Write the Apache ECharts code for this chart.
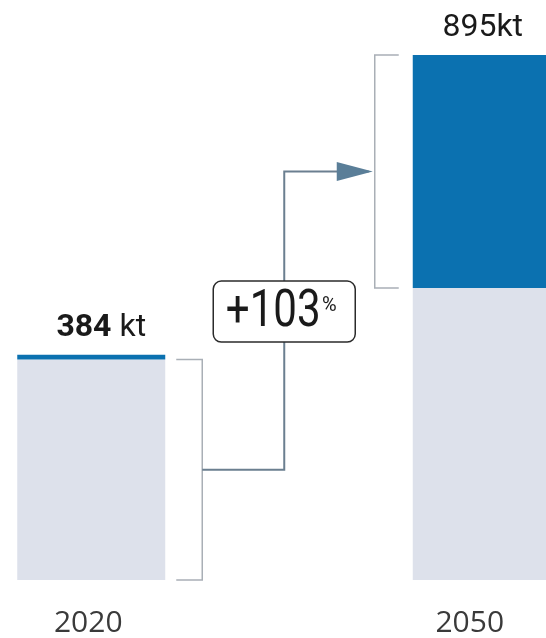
<!DOCTYPE html>
<html>
<head>
<meta charset="utf-8">
<script src="https://cdn.jsdelivr.net/npm/echarts@6/dist/echarts.min.js"></script>
<style>
html,body{margin:0;padding:0;background:#fff;}
#chart{width:546px;height:638px;}
</style>
</head>
<body>
<div id="chart"></div>
<script>
// ---- data ----
const categories = ['2020', '2050'];
const baseValues = [376, 498];     // light grey part (kt)
const growthValues = [8, 397];     // blue part (kt)
const totals = [384, 895];         // labelled totals (kt)
const changePct = 103;             // "+103%"

// ---- styles ----
const BAR_W = 148;
const GREY = '#dde1eb';
const BLUE = '#0b71b0';
const FONT = 'Roboto, "Noto Sans", sans-serif';

const chart = echarts.init(document.getElementById('chart'));

function renderItem(params, api) {
  const cL = api.coord([0, 0]);
  const cR = api.coord([1, 0]);
  const yBot = cL[1];
  const yTopL = api.coord([0, baseValues[0]])[1];
  const yTopR = api.coord([1, totals[1]])[1];
  const yBotR = api.coord([1, baseValues[1]])[1];
  const lR = cL[0] + BAR_W / 2;
  const rL = cR[0] - BAR_W / 2;
  const vL = lR + 37;
  const vR = rL - 38;
  const yL = (yTopL + yBot) / 2;
  const yR = (yTopR + yBotR) / 2;
  const xm = lR + 119;
  const boxCy = (yL + yR) / 2 - 9;
  const bracketStyle = { stroke: '#a9afb6', lineWidth: 1.5, fill: null };
  return {
    type: 'group',
    children: [
      { type: 'polyline', shape: { points: [[lR + 11, yTopL], [vL, yTopL], [vL, yBot], [lR + 11, yBot]] }, style: bracketStyle },
      { type: 'polyline', shape: { points: [[rL - 14, yTopR], [vR, yTopR], [vR, yBotR], [rL - 14, yBotR]] }, style: bracketStyle },
      { type: 'polyline', shape: { points: [[vL, yL], [xm, yL], [xm, yR], [vR - 6, yR]] }, style: { stroke: '#6b7f90', lineWidth: 2, fill: null } },
      { type: 'polygon', shape: { points: [[vR - 2, yR], [vR - 38, yR - 9.5], [vR - 38, yR + 9.5]] }, style: { fill: '#5a7e98' } },
      { type: 'rect', shape: { x: xm - 71, y: boxCy - 30.5, width: 142, height: 61, r: 8 }, style: { fill: '#fff', stroke: '#2b2b2b', lineWidth: 1.5 } },
      { type: 'text', x: xm - 11, y: boxCy + 1, scaleX: 0.81,
        style: { text: '+' + changePct, font: '400 52px ' + FONT, fill: '#1a1a1a', align: 'center', verticalAlign: 'middle' } },
      { type: 'text', x: xm + 45, y: boxCy - 6,
        style: { text: '%', font: '400 20px ' + FONT, fill: '#1a1a1a', align: 'center', verticalAlign: 'middle' } }
    ]
  };
}

const option = {
  animation: false,
  backgroundColor: '#fff',
  grid: { left: -106.5, right: -138.5, top: 55, bottom: 58, outerBoundsMode: 'none', containLabel: false },
  xAxis: {
    type: 'category',
    data: categories,
    axisLine: { show: false },
    axisTick: { show: false },
    axisLabel: {
      margin: 28,
      formatter: function (v, i) { return i === 1 ? '{b|' + v + '}' : '{a|' + v + '}'; },
      rich: {
        a: { fontFamily: '"Open Sans", sans-serif', fontSize: 30, fontWeight: 400, color: '#3a3a3a', lineHeight: 30, padding: [0, 6, 0, 0] },
        b: { fontFamily: '"Open Sans", sans-serif', fontSize: 30, fontWeight: 400, color: '#3a3a3a', lineHeight: 30, padding: [0, 34, 0, 0] }
      }
    }
  },
  yAxis: { type: 'value', min: 0, max: 895, show: false, splitLine: { show: false } },
  series: [
    {
      type: 'bar', stack: 't', barWidth: BAR_W,
      data: baseValues,
      itemStyle: { color: GREY }
    },
    {
      type: 'bar', stack: 't', barWidth: BAR_W,
      data: growthValues.map(function (v, i) {
        return { value: v, label: { offset: i === 0 ? [10, 0] : [-4, 0] } };
      }),
      itemStyle: { color: BLUE },
      label: {
        show: true, position: 'top', distance: 11,
        formatter: function (p) {
          return p.dataIndex === 0 ? '{b|' + totals[0] + '}{r| kt}' : '{m|' + totals[1] + '}{r|kt}';
        },
        rich: {
          b: { fontFamily: FONT, fontSize: 32, fontWeight: 700, color: '#1a1a1a', lineHeight: 32 },
          m: { fontFamily: FONT, fontSize: 32, fontWeight: 400, color: '#1a1a1a', lineHeight: 32 },
          r: { fontFamily: FONT, fontSize: 32, fontWeight: 400, color: '#1a1a1a', lineHeight: 32 }
        }
      }
    },
    {
      type: 'custom',
      coordinateSystem: 'cartesian2d',
      renderItem: renderItem,
      data: [[0, 0]],
      silent: true,
      z: 5
    }
  ]
};
chart.setOption(option);
</script>
</body>
</html>
